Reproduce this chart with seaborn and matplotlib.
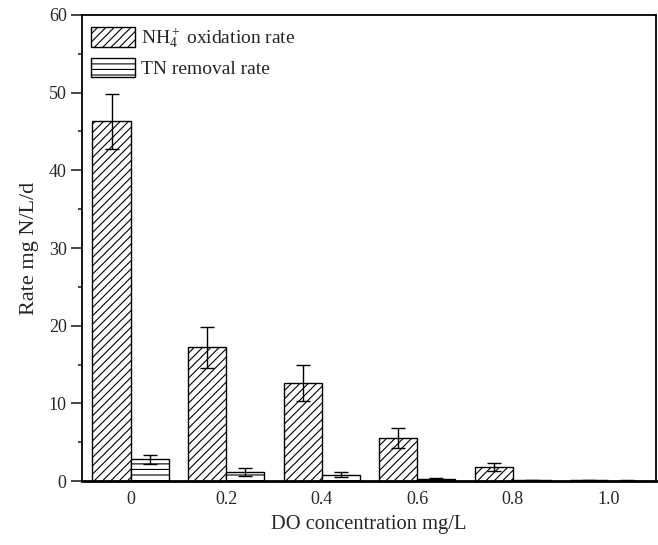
import numpy as np
import pandas as pd
import seaborn as sns
import matplotlib
matplotlib.use('Agg')
import matplotlib.pyplot as plt
from matplotlib.patches import Patch
from matplotlib.ticker import MultipleLocator

# values
do_levels = ['0', '0.2', '0.4', '0.6', '0.8', '1.0']
nh4_rate = [46.3, 17.2, 12.6, 5.5, 1.8, 0.08]
nh4_err = [3.5, 2.6, 2.3, 1.3, 0.5, 0.05]
tn_rate = [2.8, 1.15, 0.8, 0.3, 0.1, 0.05]
tn_err = [0.55, 0.5, 0.3, 0.15, 0.05, 0.03]
series = [r'NH$_4^+$ oxidation rate', 'TN removal rate']

sns.set_style('ticks')
plt.rcParams['font.family'] = ['Liberation Serif', 'DejaVu Serif']
plt.rcParams['mathtext.fontset'] = 'custom'
plt.rcParams['mathtext.rm'] = 'Liberation Serif'
plt.rcParams['mathtext.it'] = 'Liberation Serif:italic'
plt.rcParams['hatch.linewidth'] = 0.8

df = pd.DataFrame({
    'DO': do_levels * 2,
    'rate': nh4_rate + tn_rate,
    'series': [series[0]] * len(do_levels) + [series[1]] * len(do_levels),
})

fig, ax = plt.subplots(figsize=(6.58, 5.45), dpi=100)
fig.subplots_adjust(left=0.1246, right=0.997, top=0.9725, bottom=0.1174)

sns.barplot(data=df, x='DO', y='rate', hue='series', order=do_levels,
            hue_order=series, palette=['white', 'white'], edgecolor='black',
            linewidth=1.0, width=0.8, errorbar=None, legend=False, ax=ax)

hatches = ['////', '---']
errs = [nh4_err, tn_err]
for cont, h, e in zip(ax.containers, hatches, errs):
    xs = []
    ys = []
    for bar in cont:
        bar.set_hatch(h)
        xs.append(bar.get_x() + bar.get_width() / 2)
        ys.append(bar.get_height())
    ax.errorbar(xs, ys, yerr=e, fmt='none', ecolor='black', elinewidth=1.0,
                capsize=5, capthick=1.0, zorder=5)

ax.set_xlim(-0.51, 5.5)
ax.set_ylim(0, 60)
ax.yaxis.set_major_locator(MultipleLocator(10))
ax.yaxis.set_minor_locator(MultipleLocator(5))
ax.tick_params(axis='y', which='major', direction='out', length=8, width=1.2,
               pad=3, labelsize=13)
ax.tick_params(axis='y', which='minor', direction='out', length=3, width=1.2)
ax.tick_params(axis='x', length=0, pad=7, labelsize=13)
for s in ax.spines.values():
    s.set_linewidth(1.3)
    s.set_color('black')
ax.spines['bottom'].set_linewidth(2.0)

ax.set_xlabel('DO concentration mg/L', labelpad=5, fontsize=14.8)
ax.set_ylabel('Rate mg N/L/d', labelpad=7, fontsize=16)

handles = [Patch(facecolor='white', edgecolor='black', hatch=h, linewidth=1.0)
           for h in hatches]
ax.legend(handles, series, loc='upper left', frameon=False,
          bbox_to_anchor=(0.0157, 0.976), handlelength=2.27, handleheight=1.15,
          handletextpad=0.3, labelspacing=0.4, borderaxespad=0, borderpad=0,
          fontsize=14)

fig.savefig('out.png', dpi=100)
